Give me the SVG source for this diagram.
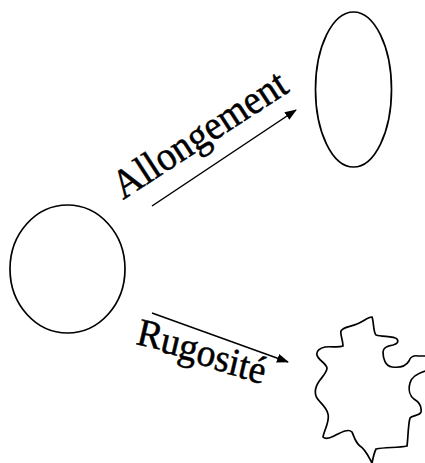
<svg xmlns="http://www.w3.org/2000/svg" width="425" height="463" viewBox="0 0 425 463">
<style>
.shape{fill:none;stroke:#000;stroke-width:1.7}
.conn{fill:none;stroke:#000;stroke-width:1.5}
.lbl{font-family:"Liberation Serif","Times New Roman",serif;fill:#000;stroke:#000;stroke-width:0.5}
</style>
<defs>
<marker id="ah" viewBox="0 0 12 9" refX="11" refY="4.5" markerWidth="12" markerHeight="9" markerUnits="userSpaceOnUse" orient="auto">
<path d="M0,0 L12,4.5 L0,9 Z" fill="#000"/>
</marker>
</defs>
<rect width="425" height="463" fill="#fff"/>
<g id="circle"><ellipse class="shape" cx="67.5" cy="269" rx="57.5" ry="64"/></g>
<g id="ellipse"><ellipse class="shape" cx="353.5" cy="89.5" rx="38" ry="77.5"/></g>
<g id="rough"><path class="shape" d="M372,317 C374,322 373,332 376,335 C382,337 394,336 397,339 C399,342 397,344 393,345 C386,346 383,348 383,352 C383,358 385,366 392,367 C400,368 406,366 409,361 C410,357 414,355 418,356 L430,356 L430,370 C420,372 412,376 410,383 C408,390 410,396 414,399 C419,402 422,406 421,412 C420,416 412,415 410,418 C408,425 408,440 407,446 C398,448 385,447 376,449 C374,453 373,458 372,463 C368,456 366,450 360,446 C355,442 354,436 352,432 C348,428 340,433 334,436 C330,438 325,439 323,437 C324,430 330,422 328,414 C326,405 318,402 316,396 C314,390 317,384 320,380 C323,376 327,372 327,368 C326,363 318,360 317,355 C316,351 320,348 325,347 C331,346 338,348 343,346 C343,340 340,335 341,331 C343,327 350,327 357,324 C364,321 368,317 372,317 Z"/></g>
<g id="connectors">
<line class="conn" x1="152" y1="206" x2="296" y2="110" marker-end="url(#ah)"/>
<line class="conn" x1="152" y1="313" x2="288" y2="362" marker-end="url(#ah)"/>
</g>
<g id="labels">
<text class="lbl" font-size="41" transform="translate(123,200) rotate(-33)" textLength="200" lengthAdjust="spacingAndGlyphs">Allongement</text>
<text class="lbl" font-size="39" transform="translate(135,344) rotate(18)" rotate="-5" textLength="134" lengthAdjust="spacingAndGlyphs">Rugosité</text>
</g>
</svg>
